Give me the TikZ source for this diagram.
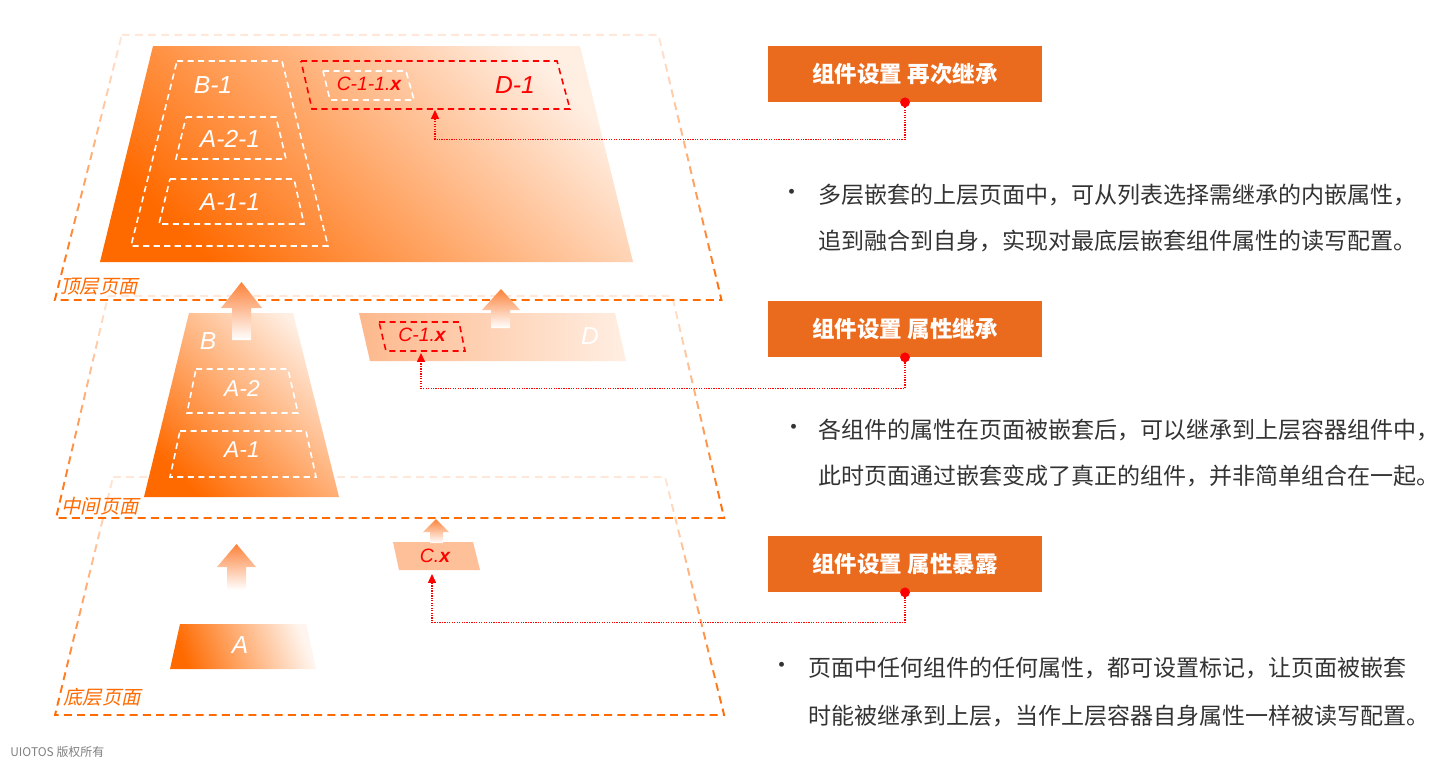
\documentclass[tikz,border=0pt]{standalone}
\usepackage{fontspec}
\setmainfont{Liberation Sans}
\newfontfamily\cjk{Noto Sans CJK SC}
\newfontfamily\cjkit[FakeSlant=0.22]{Noto Sans CJK SC}
\usetikzlibrary{arrows.meta, fadings}
\definecolor{deeporange}{RGB}{255,106,0}
\definecolor{paleorange}{RGB}{255,238,226}
\definecolor{boxorange}{RGB}{234,107,30}
\definecolor{softorange}{RGB}{252,130,58}
\definecolor{lightorange}{RGB}{253,184,140}
\definecolor{connred}{RGB}{255,0,0}
\definecolor{textgray}{RGB}{51,51,51}
\tikzfading[name=layerfade, top color=transparent!85, middle color=transparent!55, bottom color=transparent!0]
\tikzset{
  layer/.style={draw=deeporange, line width=1.1pt, dash pattern=on 4.5pt off 3pt, path fading=layerfade},
  inbox/.style={draw=white, line width=0.9pt, dash pattern=on 3.5pt off 2.5pt},
  redbox/.style={draw=connred, line width=0.9pt, dash pattern=on 3.5pt off 2.5pt},
  bigarrow/.style={top color=softorange, bottom color=white},
  layerlbl/.style={font=\cjkit\fontsize{11}{13}\selectfont, text=deeporange, inner sep=0},
  tag/.style={font=\itshape\fontsize{14}{16}\selectfont, text=white, inner sep=0},
  smalltag/.style={font=\itshape\fontsize{11}{13}\selectfont, text=connred, inner sep=0},
  setbox/.style={fill=boxorange, minimum width=5.48cm, minimum height=1.12cm, inner sep=0,
    font=\cjk\bfseries\fontsize{12.8}{15}\selectfont, text=white},
  bodytxt/.style={font=\cjk\fontsize{13.1}{15}\selectfont, text=textgray, anchor=west, inner sep=0},
  link/.style={draw=connred, line width=0.7pt, dash pattern=on 0.7pt off 0.7pt,
    -{Triangle[length=5pt,width=4.5pt]}}
}

\begin{document}
\begin{tikzpicture}[x=0.02cm, y=-0.02cm]
  \fill[white] (0,0) rectangle (1440,771);
  \useasboundingbox (0,0) rectangle (1440,771);

  % layer outlines
  \draw[layer] (122,35) -- (659,35) -- (722,300) -- (55,300) -- cycle;
  \draw[layer] (108,296) -- (672,296) -- (724,518) -- (56,518) -- cycle;
  \draw[layer] (113,477) -- (665,477) -- (724,715) -- (55,715) -- cycle;
  \node[layerlbl] (toplbl) at (99,287) {顶层页面};
  \node[layerlbl] (midlbl) at (100,506) {中间页面};
  \node[layerlbl] (botlbl) at (102,697) {底层页面};

  % top page
  \shade[top color=deeporange, bottom color=paleorange, shading angle=135]
    (153,46) -- (580,46) -- (633,262) -- (100,262) -- cycle;
  \draw[inbox] (177,61) -- (282,61) -- (328,246) -- (131,246) -- cycle;
  \draw[inbox] (186,117) -- (276,117) -- (286,159) -- (176,159) -- cycle;
  \draw[inbox] (170,179) -- (294,179) -- (304,224) -- (159,224) -- cycle;
  \draw[redbox] (301,61) -- (557,61) -- (570,109) -- (312,109) -- cycle;
  \draw[inbox] (323,71) -- (406,71) -- (414,100) -- (330,100) -- cycle;
  \node[tag] (b1) at (213,85) {B-1};
  \node[tag] (a21) at (230,139) {A-2-1};
  \node[tag] (a11) at (230,202) {A-1-1};
  \node[tag, text=connred] (d1) at (515,85) {D-1};
  \node[smalltag] (c11x) at (369,84) {C-1-1.\textbf{x}};
  \coordinate (tip1) at (435,110);

  % middle page
  \shade[top color=deeporange, bottom color=paleorange, shading angle=135]
    (189,313) -- (293,313) -- (339,497) -- (144,497) -- cycle;
  \shade[left color=lightorange, right color=paleorange]
    (359,313) -- (615,313) -- (626,361) -- (370,361) -- cycle;
  \draw[inbox] (196,369) -- (288,369) -- (298,413) -- (187,413) -- cycle;
  \draw[inbox] (180,431) -- (306,431) -- (316,477) -- (170,477) -- cycle;
  \draw[redbox] (379,322) -- (459,322) -- (465,351) -- (386,351) -- cycle;
  \node[tag] (b) at (208,341) {B};
  \node[tag] (d) at (590,336) {D};
  \node[tag, font=\itshape\fontsize{13}{15}\selectfont] (a2) at (242,389) {A-2};
  \node[tag, font=\itshape\fontsize{13}{15}\selectfont] (a1) at (242,450) {A-1};
  \node[smalltag] (c1x) at (422,335) {C-1.\textbf{x}};
  \coordinate (tip2) at (421,353);

  % bottom page
  \fill[lightorange!85!paleorange] (393,542) -- (473,542) -- (480,570) -- (399,570) -- cycle;
  \shade[top color=deeporange, bottom color=paleorange!60!white, shading angle=110]
    (180,624) -- (306,624) -- (316,669) -- (170,669) -- cycle;
  \node[smalltag] (cx) at (435,556) {C.\textbf{x}};
  \node[tag] (a) at (240,645) {A};
  \coordinate (tip3) at (432,574);

  % lift arrows
  \shade[bigarrow] (232,340) -- (232,308) -- (221,308) -- (241.5,282) -- (262,308) -- (251,308) -- (251,340) -- cycle;
  \shade[bigarrow] (491,328) -- (491,310) -- (482,310) -- (501,289) -- (520,310) -- (510,310) -- (510,328) -- cycle;
  \shade[bigarrow] (227,590) -- (227,567) -- (217,567) -- (236.5,544) -- (256,567) -- (246,567) -- (246,590) -- cycle;
  \shade[bigarrow] (430,543) -- (430,532) -- (423,532) -- (436,519) -- (449,532) -- (443,532) -- (443,543) -- cycle;

  % setting boxes
  \node[setbox] (box1) at (905,74) {组件设置 再次继承};
  \node[setbox] (box2) at (905,329) {组件设置 属性继承};
  \node[setbox] (box3) at (905,564) {组件设置 属性暴露};
  \draw[link] (box1.south) -- ++(0,37) -| (tip1);
  \draw[link] (box2.south) -- ++(0,31) -| (tip2);
  \draw[link] (box3.south) -- ++(0,30) -| (tip3);
  \fill[connred] (box1.south) circle (2.8pt);
  \fill[connred] (box2.south) circle (2.8pt);
  \fill[connred] (box3.south) circle (2.8pt);

  % descriptions
  \node[bodytxt] (dot1) at (780,195) {•};
  \node[bodytxt] (txt1a) at (818,195) {多层嵌套的上层页面中，可从列表选择需继承的内嵌属性，};
  \node[bodytxt] (txt1b) at (818,241) {追到融合到自身，实现对最底层嵌套组件属性的读写配置。};
  \node[bodytxt] (dot2) at (782,430) {•};
  \node[bodytxt] (txt2a) at (818,430) {各组件的属性在页面被嵌套后，可以继承到上层容器组件中，};
  \node[bodytxt] (txt2b) at (818,476) {此时页面通过嵌套变成了真正的组件，并非简单组合在一起。};
  \node[bodytxt] (dot3) at (770,668) {•};
  \node[bodytxt] (txt3a) at (808,668) {页面中任何组件的任何属性，都可设置标记，让页面被嵌套};
  \node[bodytxt] (txt3b) at (808,716) {时能被继承到上层，当作上层容器自身属性一样被读写配置。};

  \node[font=\cjk\fontsize{6.8}{8}\selectfont, text=black!50, anchor=west, inner sep=0] (mark) at (10,752) {UIOTOS 版权所有};
\end{tikzpicture}
\end{document}
